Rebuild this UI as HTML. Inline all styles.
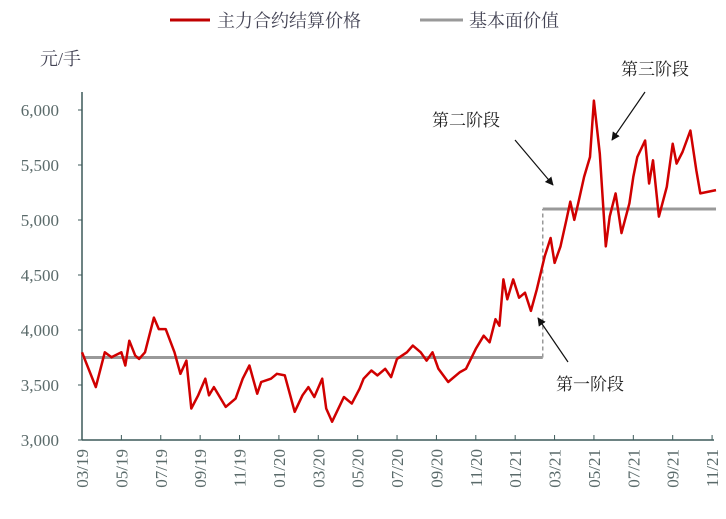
<!DOCTYPE html>
<html><head><meta charset="utf-8"><style>
body{margin:0;background:#fff;}
svg{display:block;font-family:"Liberation Serif","Noto Serif CJK SC",serif;}
</style></head><body>
<svg id="chart" width="726" height="519">
<defs><marker id="ah" viewBox="0 0 10 10" refX="9" refY="5" markerWidth="7" markerHeight="7" orient="auto"><path d="M0,0L10,5L0,10z" fill="#111"/></marker></defs>
<g id="legend">
<line x1="170" y1="20" x2="210" y2="20" stroke="#c00000" stroke-width="3"/>
<text x="217" y="27" font-size="18" fill="#445">主力合约结算价格</text>
<line x1="420" y1="20" x2="463" y2="20" stroke="#999" stroke-width="3"/>
<text x="469" y="27" font-size="18" fill="#445">基本面价值</text>
</g>
<text x="40" y="65" font-size="18" fill="#445">元/手</text>
<g id="yaxis"></g>
<g id="xaxis"></g>
<g id="series"></g>
<g>
<text x="432" y="126" font-size="17" fill="#222">第二阶段</text>
<line x1="515" y1="140" x2="553" y2="185" stroke="#111" stroke-width="1.2" marker-end="url(#ah)"/>
<text x="621" y="75" font-size="17" fill="#222">第三阶段</text>
<line x1="645" y1="92" x2="612" y2="140" stroke="#111" stroke-width="1.2" marker-end="url(#ah)"/>
<text x="556" y="390" font-size="17" fill="#222">第一阶段</text>
<line x1="568" y1="362" x2="538" y2="318" stroke="#111" stroke-width="1.2" marker-end="url(#ah)"/>
</g>
</svg>
<script>
const months=[0,0.7,1.16,1.5,2,2.2,2.4,2.7,2.9,3.2,3.65,3.9,4.25,4.7,5.0,5.3,5.55,5.9,6.26,6.45,6.7,7.3,7.8,8.16,8.5,8.9,9.1,9.6,9.9,10.3,10.8,11.2,11.5,11.8,12.2,12.4,12.7,13.3,13.7,14.1,14.3,14.7,15.0,15.4,15.7,16.0,16.5,16.8,17.2,17.5,17.8,18.1,18.6,19.2,19.5,20.0,20.4,20.7,21.0,21.2,21.4,21.6,21.9,22.2,22.5,22.8,23.1,23.5,23.8,24.0,24.3,24.6,24.8,25.0,25.2,25.5,25.8,26.0,26.3,26.6,26.8,27.1,27.4,27.8,28.0,28.2,28.6,28.8,29.0,29.3,29.7,30.0,30.2,30.5,30.9,31.2,31.4,32.2];
const prices=[3797,3481,3797,3752,3797,3677,3903,3767,3737,3797,4113,4008,4008,3797,3602,3722,3286,3406,3557,3406,3481,3301,3376,3557,3677,3421,3527,3557,3602,3587,3256,3406,3481,3391,3557,3286,3166,3391,3331,3466,3557,3632,3587,3647,3572,3737,3797,3858,3797,3722,3797,3647,3527,3617,3647,3828,3948,3888,4098,4038,4460,4279,4460,4294,4339,4174,4369,4670,4836,4610,4760,5001,5167,5001,5152,5392,5573,6085,5603,4760,5031,5242,4881,5152,5392,5573,5723,5332,5543,5031,5302,5693,5513,5618,5814,5453,5242,5272];
const valueMonths=[0,23.4,23.4,32.2];
const values=[3750,3750,5100,5100];
const yTicks=[3000,3500,4000,4500,5000,5500,6000];
const xTickLabels=["03/19","05/19","07/19","09/19","11/19","01/20","03/20","05/20","07/20","09/20","11/20","01/21","03/21","05/21","07/21","09/21","11/21"];
const NS="http://www.w3.org/2000/svg";
const X0=82,PXM=19.69,Y0=440,PXV=0.11;
const xs=m=>X0+m*PXM, ys=v=>Y0-(v-3000)*PXV;
function mk(t,a,p){const e=document.createElementNS(NS,t);for(const k in a)e.setAttribute(k,a[k]);p.appendChild(e);return e;}
const ya=document.getElementById('yaxis'),xa=document.getElementById('xaxis'),se=document.getElementById('series');
let l=mk('line',{x1:X0,y1:92,x2:X0,y2:Y0,stroke:'#3d5a5a','stroke-width':1.5},ya);


yTicks.forEach(v=>{
 const t=mk('line',{x1:X0-4,y1:ys(v),x2:X0,y2:ys(v),stroke:'#3d5a5a'},ya);
 
 
 const tx=mk('text',{x:X0-23,y:ys(v)+6,'font-size':17,fill:'#5a6a6a','text-anchor':'end'},ya);
 tx.textContent=v.toLocaleString('en-US');
 
 
});
l=mk('line',{x1:X0,y1:Y0,x2:714,y2:Y0,stroke:'#3d5a5a','stroke-width':1.5},xa);


xTickLabels.forEach((s,i)=>{
 const x=xs(i*2);
 const t=mk('line',{x1:x,y1:Y0-5,x2:x,y2:Y0,stroke:'#3d5a5a'},xa);
 
 
 const tx=mk('text',{x:0,y:0,'font-size':17,fill:'#5a6a6a','text-anchor':'end',transform:`translate(${x+6},449) rotate(-90)`},xa);
 tx.textContent=s;
 
 
});
const vp=mk('path',{d:`M${xs(valueMonths[0])},${ys(values[0])}L${xs(valueMonths[1])},${ys(values[1])}`,stroke:'#999','stroke-width':3,fill:'none'},se);


const dp=mk('path',{d:`M${xs(valueMonths[1])},${ys(values[1])}L${xs(valueMonths[2])},${ys(values[2])}`,stroke:'#999','stroke-width':1.5,'stroke-dasharray':'4,3',fill:'none'},se);


const vp2=mk('path',{d:`M${xs(valueMonths[2])},${ys(values[2])}L${xs(valueMonths[3])},${ys(values[3])}`,stroke:'#999','stroke-width':3,fill:'none'},se);


const pp=mk('path',{d:months.map((m,i)=>(i?'L':'M')+xs(m).toFixed(1)+','+ys(prices[i]).toFixed(1)).join(''),stroke:'#d00000','stroke-width':2.5,fill:'none','stroke-linejoin':'round'},se);


</script>
</body></html>
